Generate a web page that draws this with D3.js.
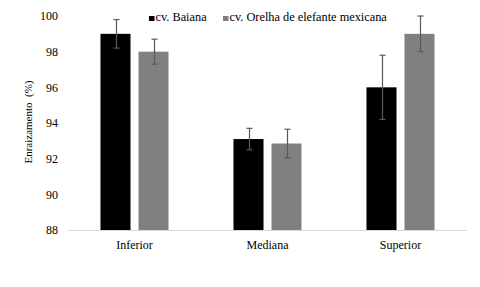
<!DOCTYPE html>
<html>
<head>
<meta charset="utf-8">
<script src="https://cdn.jsdelivr.net/npm/d3@7"></script>
<style>
  body { margin: 0; background: #fff; }
</style>
</head>
<body>
<svg id="chart" width="480" height="287" font-family="'Liberation Serif', serif"></svg>
<script>
// data
var categories = ['Inferior', 'Mediana', 'Superior'];
var seriesNames = ['cv. Baiana', 'cv. Orelha de elefante mexicana'];
var baiana = [99.0, 93.1, 96.0];
var baianaErr = [0.8, 0.6, 1.8];
var orelha = [98.0, 92.85, 99.0];
var orelhaErr = [0.7, 0.8, 1.0];
var yTicks = [88, 90, 92, 94, 96, 98, 100];

var colors = ['#000000', '#808080'];
var width = 480, height = 287;
var margin = {top: 16, right: 13, bottom: 57, left: 68};

var svg = d3.select('#chart');

var x0 = d3.scaleBand()
    .domain(categories)
    .range([margin.left, width - margin.right])
    .padding(0);

var x1 = d3.scaleBand()
    .domain([0, 1])
    .range([0, x0.bandwidth()])
    .paddingInner(0.21)
    .paddingOuter(0.855);

var y = d3.scaleLinear()
    .domain([88, 100])
    .range([height - margin.bottom, margin.top]);

// y tick labels (no gridlines)
svg.append('g')
    .selectAll('text')
    .data(yTicks)
    .enter().append('text')
    .attr('x', 58)
    .attr('y', function(d) { return y(d); })
    .attr('dy', '0.35em')
    .attr('text-anchor', 'end')
    .style('font-size', '12px')
    .text(function(d) { return d; });

var flat = d3.merge(categories.map(function(c, i) {
    return [
        {cat: c, s: 0, v: baiana[i], e: baianaErr[i]},
        {cat: c, s: 1, v: orelha[i], e: orelhaErr[i]}
    ];
}));

svg.append('g')
    .selectAll('rect')
    .data(flat)
    .enter().append('rect')
    .attr('x', function(d) { return x0(d.cat) + x1(d.s); })
    .attr('width', x1.bandwidth())
    .attr('y', function(d) { return y(d.v); })
    .attr('height', function(d) { return y(88) - y(d.v); })
    .style('fill', function(d) { return colors[d.s]; });

// x axis line
svg.append('line')
    .attr('x1', margin.left)
    .attr('x2', width - margin.right)
    .attr('y1', y(88) + 0.5)
    .attr('y2', y(88) + 0.5)
    .style('stroke', '#d9d9d9')
    .style('stroke-width', 1);

// error bars
var eb = svg.append('g')
    .selectAll('g')
    .data(flat)
    .enter().append('g')
    .style('stroke', '#595959')
    .style('stroke-width', 1.2);

function cx(d) { return Math.round(x0(d.cat) + x1(d.s) + x1.bandwidth() / 2) + 0.5; }

eb.append('line')
    .attr('x1', cx).attr('x2', cx)
    .attr('y1', function(d) { return y(d.v + d.e); })
    .attr('y2', function(d) { return y(d.v - d.e); });
eb.append('line')
    .attr('x1', function(d) { return cx(d) - 3; })
    .attr('x2', function(d) { return cx(d) + 3; })
    .attr('y1', function(d) { return y(d.v + d.e); })
    .attr('y2', function(d) { return y(d.v + d.e); });
eb.append('line')
    .attr('x1', function(d) { return cx(d) - 3; })
    .attr('x2', function(d) { return cx(d) + 3; })
    .attr('y1', function(d) { return y(d.v - d.e); })
    .attr('y2', function(d) { return y(d.v - d.e); });

// category labels
svg.append('g')
    .selectAll('text')
    .data(categories)
    .enter().append('text')
    .attr('x', function(d) { return x0(d) + x0.bandwidth() / 2; })
    .attr('y', 249)
    .attr('text-anchor', 'middle')
    .style('font-size', '12px')
    .text(function(d) { return d; });

// y axis title
svg.append('text')
    .attr('transform', 'translate(32,122) rotate(-90)')
    .attr('text-anchor', 'middle')
    .style('font-size', '11px')
    .style('white-space', 'pre')
    .text('Enraizamento  (%)');

// legend
var legendX = [149, 223];
var legend = svg.append('g')
    .selectAll('g')
    .data(seriesNames)
    .enter().append('g')
    .attr('transform', function(d, i) { return 'translate(' + legendX[i] + ',0)'; });
legend.append('rect')
    .attr('x', 0).attr('y', 16)
    .attr('width', 5.5).attr('height', 5)
    .style('fill', function(d, i) { return colors[i]; });
legend.append('text')
    .attr('x', 6.5).attr('y', 21)
    .style('font-size', '12.3px')
    .text(function(d) { return d; });
</script>
</body>
</html>
